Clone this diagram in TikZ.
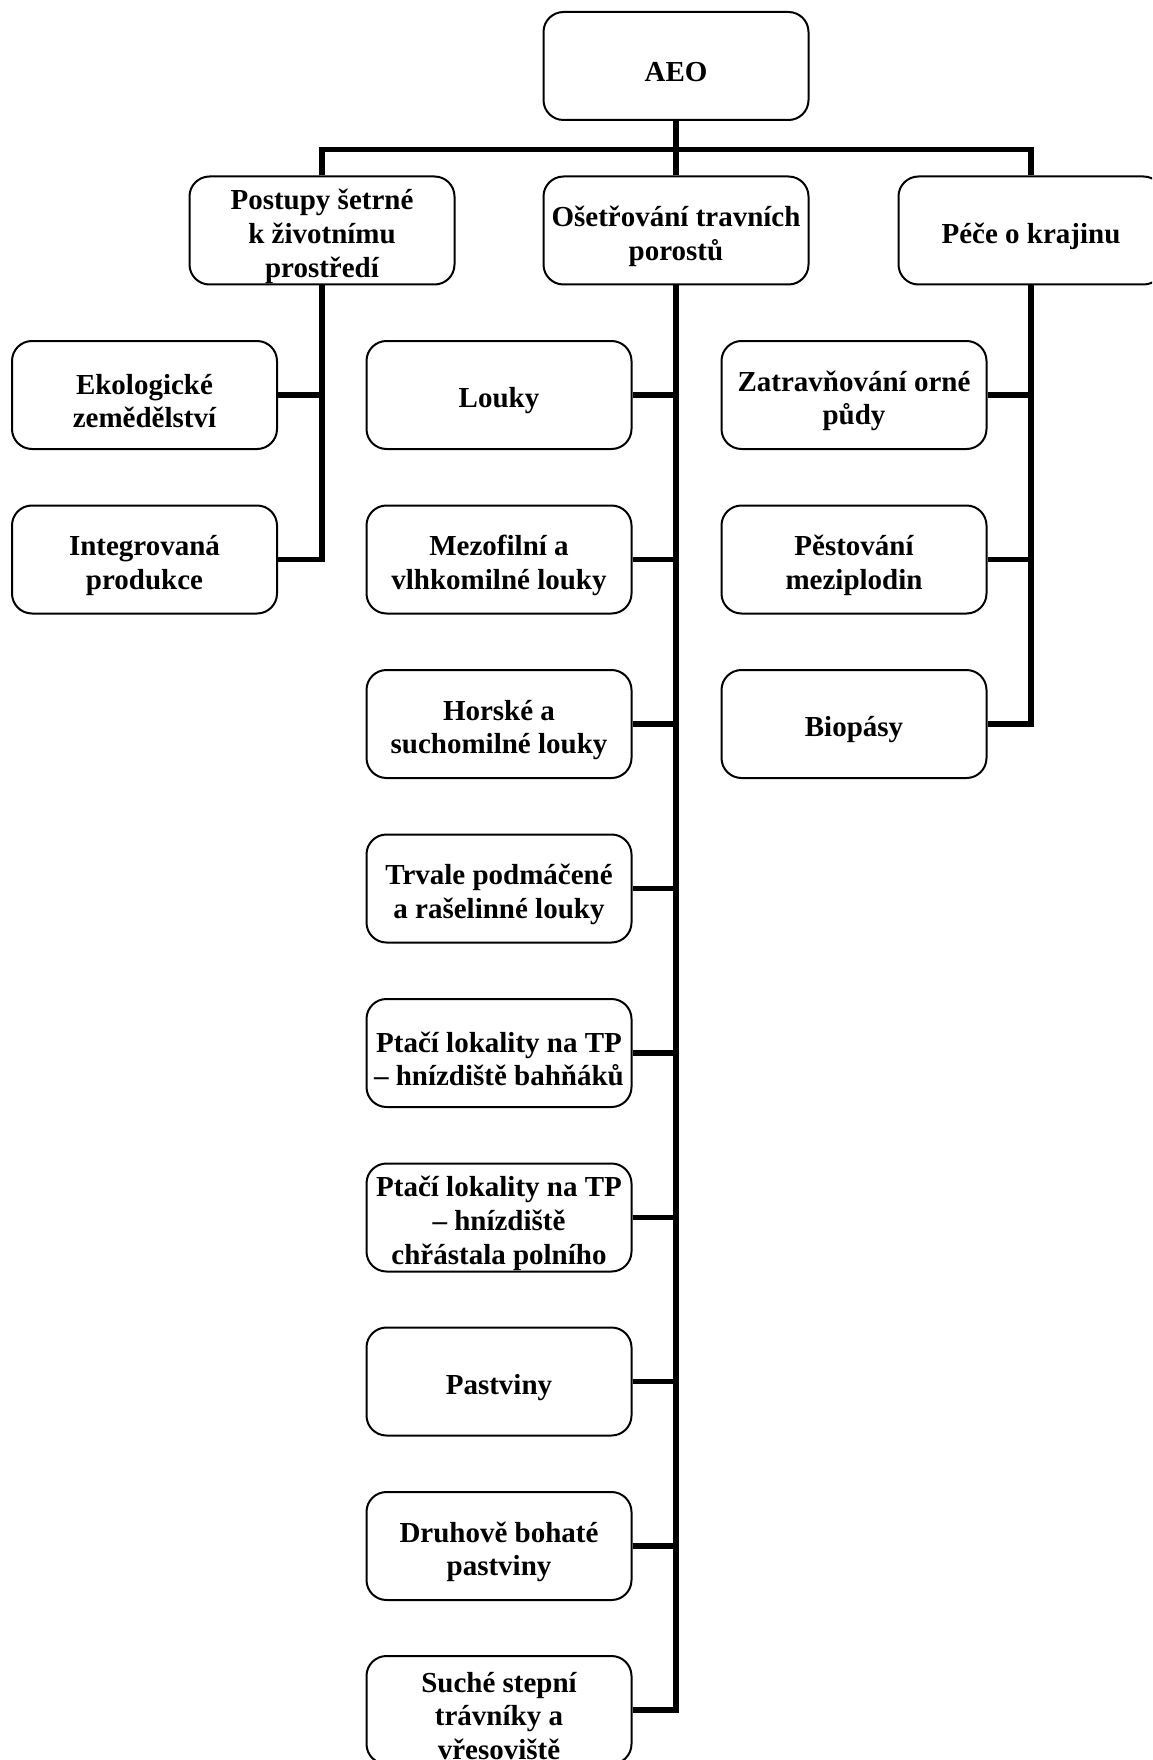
\documentclass[tikz,border=0pt]{standalone}
\usepackage{fontspec}
\setmainfont{Liberation Serif}
\tikzset{
  box/.style={draw, line width=2pt, rounded corners=20pt, minimum width=265pt, minimum height=108pt, inner sep=0pt, fill=white},
  txt/.style={font=\fontsize{29}{33.7}\selectfont\bfseries, align=center, inner sep=0pt, yshift=-6pt},
  conn/.style={line width=5.5pt, line join=miter}
}
\newcommand{\bx}[3]{\node[box, path picture={\node[txt] at (path picture bounding box.center) {#3};}] (#1) at (#2) {};}
\begin{document}
\begin{tikzpicture}[x=1pt, y=-1pt]
\useasboundingbox (0,0) rectangle (1152,1760);
\fill[white] (0,0) rectangle (1152,1760);
\clip (0,0) rectangle (1152,1760);
% nodes
\bx{aeo}{676,66}{AEO}
\bx{postupy}{322,230.5}{Postupy šetrné\\k životnímu\\prostředí}
\bx{osetr}{676,230.5}{Ošetřování travních\\porostů}
\bx{pece}{1031,230.5}{Péče o krajinu}
\bx{ekol}{144.5,395}{Ekologické\\zemědělství}
\bx{integ}{144.5,559.5}{Integrovaná\\produkce}
\bx{louky}{499,395}{Louky}
\bx{mezo}{499,559.5}{Mezofilní a\\vlhkomilné louky}
\bx{horske}{499,724}{Horské a\\suchomilné louky}
\bx{trvale}{499,888.5}{Trvale podmáčené\\a rašelinné louky}
\bx{ptaciA}{499,1053}{Ptačí lokality na TP\\– hnízdiště bahňáků}
\bx{ptaciB}{499,1217.5}{Ptačí lokality na TP\\– hnízdiště\\chřástala polního}
\bx{pastviny}{499,1381.5}{Pastviny}
\bx{druhove}{499,1546}{Druhově bohaté\\pastviny}
\bx{suche}{499,1710}{Suché stepní\\trávníky a\\vřesoviště}
\bx{zatrav}{854,395}{Zatravňování orné\\půdy}
\bx{pestov}{854,559.5}{Pěstování\\meziplodin}
\bx{biopasy}{854,724}{Biopásy}
% tree connectors
\draw[conn] (aeo.south) -- (osetr.north);
\draw[conn] (postupy.north) -- ++(0,-26) -| (pece.north);
\draw[conn] (postupy.south) |- (integ.east);
\draw[conn] (ekol.east) -- (ekol.east -| postupy.south);
\draw[conn] (osetr.south) |- (suche.east);
\foreach \n in {louky,mezo,horske,trvale,ptaciA,ptaciB,pastviny,druhove}
  \draw[conn] (\n.east) -- (\n.east -| osetr.south);
\draw[conn] (pece.south) |- (biopasy.east);
\foreach \n in {zatrav,pestov}
  \draw[conn] (\n.east) -- (\n.east -| pece.south);
\end{tikzpicture}
\end{document}
